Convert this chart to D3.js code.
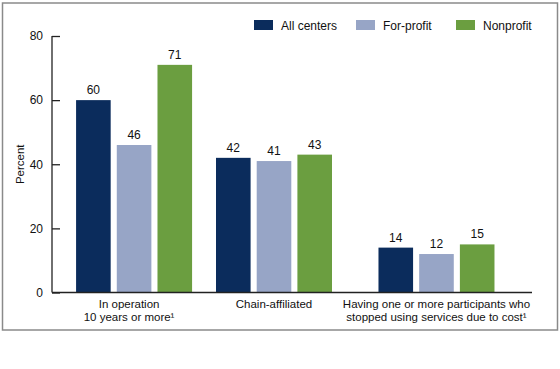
<!DOCTYPE html>
<html><head><meta charset="utf-8">
<script src="https://cdn.jsdelivr.net/npm/d3@7"></script>
<style>body{margin:0;background:#fff}svg{display:block;font-family:Arial,"Liberation Sans",sans-serif}</style>
</head><body><svg id="c" width="560" height="369"></svg>
<script>
const categories = [["In operation","10 years or more¹"],["Chain-affiliated"],["Having one or more participants who","stopped using services due to cost¹"]];
const categoryKeys = ["op","chain","cost"];
const seriesNames = ["All centers","For-profit","Nonprofit"];
const allCenters = [60, 42, 14];
const forProfit = [46, 41, 12];
const nonprofit = [71, 43, 15];
const yTicks = [0, 20, 40, 60, 80];
const colors = ["#0b2c5c", "#97a5c6", "#6b9e40"];

const svg = d3.select("#c");
const m = {left:52, right:532, top:36, bottom:292.5};
const seriesValues = [allCenters, forProfit, nonprofit];

svg.append("rect").attr("x",2.5).attr("y",3).attr("width",555).attr("height",327)
  .attr("fill","none").attr("stroke","#8a8a8a").attr("stroke-width",1.5);

const y = d3.scaleLinear().domain([0,80]).range([m.bottom, m.top]);
const groupFrac = [0.171, 0.4625, 0.801];
const x0 = d3.scaleOrdinal().domain(categoryKeys).range(groupFrac.map(f => m.left + f*(m.right-m.left)));
const x1 = d3.scaleBand().domain(seriesNames).range([-58, 58]).paddingInner(0.15);

// y axis
const yAxis = d3.axisLeft(y).tickValues(yTicks).tickSize(-8).tickPadding(9);
const ya = svg.append("g").attr("transform",`translate(${m.left},0)`).call(yAxis);
ya.select(".domain").remove();
ya.selectAll("line").attr("stroke","#222").attr("stroke-width",1.3);
ya.selectAll("text").attr("font-size","12px").attr("fill","#111").attr("font-family","Arial, 'Liberation Sans', sans-serif");
svg.append("line").attr("x1",m.left).attr("x2",m.left).attr("y1",y(80)).attr("y2",y(0))
  .attr("stroke","#222").attr("stroke-width",1.3);

svg.append("text").attr("transform",`translate(24,${(y(0)+y(80))/2}) rotate(-90)`)
  .attr("text-anchor","middle").attr("font-size","11.5px").attr("fill","#111").text("Percent");

// bars
const g = svg.append("g");
categoryKeys.forEach((k, ci) => {
  seriesNames.forEach((s, si) => {
    const v = seriesValues[si][ci];
    const bx = x0(k) + x1(s);
    g.append("rect").attr("x", bx).attr("y", y(v)).attr("width", x1.bandwidth())
      .attr("height", y(0)-y(v)).attr("fill", colors[si]);
    g.append("text").attr("x", bx + x1.bandwidth()/2).attr("y", y(v)-6)
      .attr("text-anchor","middle").attr("font-size","12px").attr("fill","#111").text(v);
  });
  const t = svg.append("text").attr("text-anchor","middle").attr("font-size","11.5px").attr("fill","#111");
  categories[ci].forEach((line, li) => {
    t.append("tspan").attr("x", x0(k) - (categories[ci].length>1 && ci===0 ? 5 : 0)).attr("y", 308 + li*13).text(line);
  });
});

// x axis line
svg.append("line").attr("x1",m.left).attr("x2",m.right).attr("y1",y(0)).attr("y2",y(0))
  .attr("stroke","#222").attr("stroke-width",1.3);

// legend
const legendX = [254, 356, 456];
seriesNames.forEach((s, i) => {
  svg.append("rect").attr("x",legendX[i]).attr("y",20).attr("width",19).attr("height",10).attr("fill",colors[i]);
  svg.append("text").attr("x",legendX[i]+27).attr("y",29.5).attr("font-size","12px").attr("fill","#111").text(s);
});
</script></body></html>
